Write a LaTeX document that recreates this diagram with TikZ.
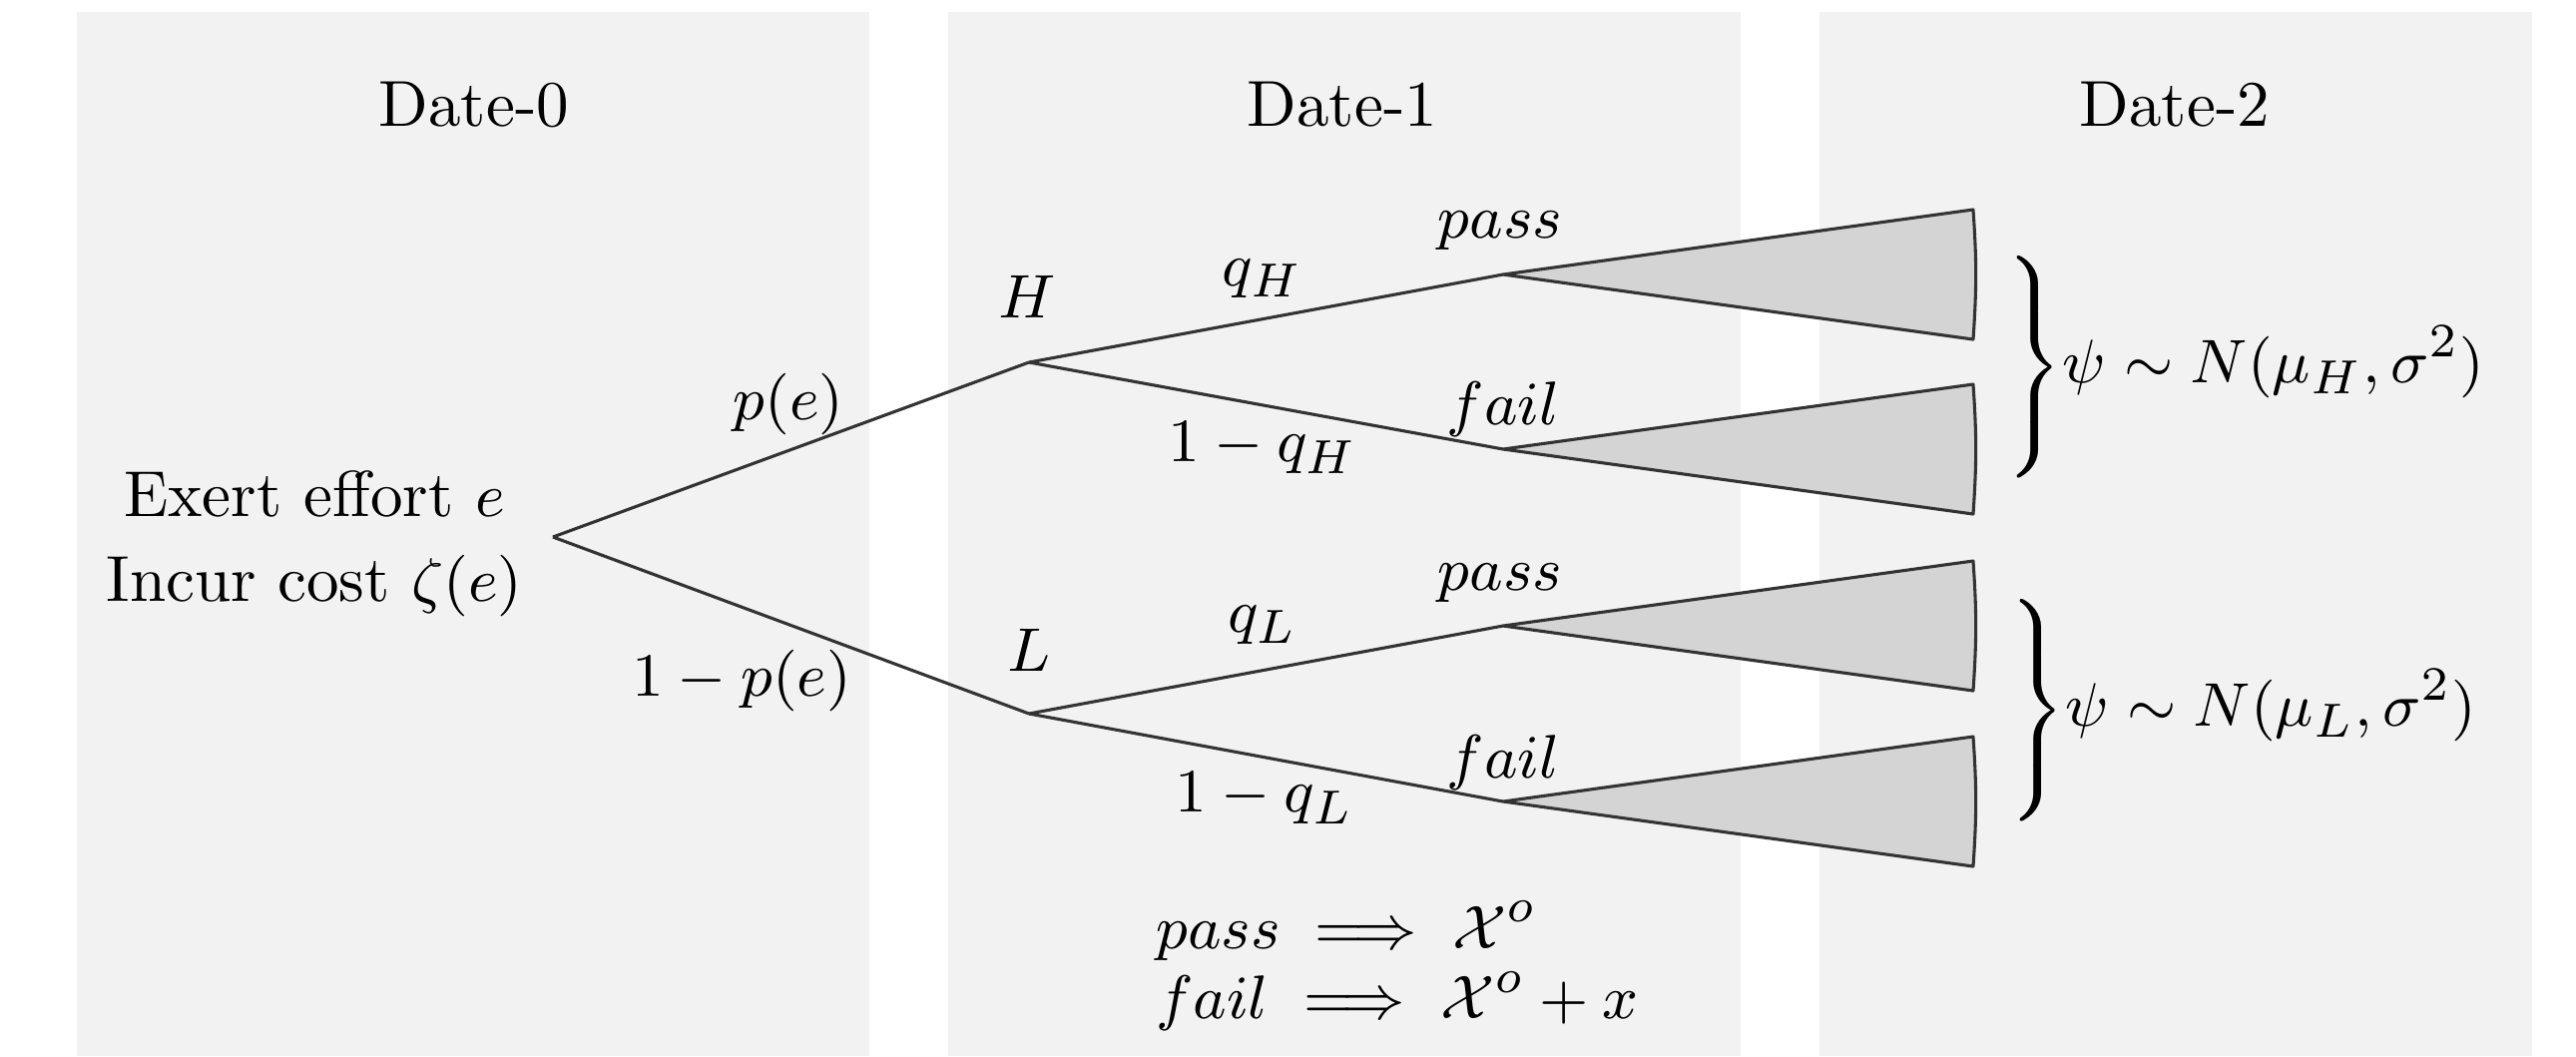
\documentclass[tikz,border=0pt]{standalone}
\usepackage{amsmath}
\begin{document}
\begin{tikzpicture}[x=0.146pt,y=-0.146pt,
  panel/.style={fill=black!5,draw=none},
  branch/.style={draw=black!80,line width=0.45pt},
  leaf/.style={draw=black!80,line width=0.45pt,fill=black!17},
  lbl/.style={inner sep=0pt,font=\fontsize{9.5}{11.8}\selectfont},
  every node/.style={font=\fontsize{9.5}{11.8}\selectfont}]
\useasboundingbox (0,0) rectangle (2581,1058);
% panels
\fill[panel] (77,12) rectangle (871,1058);
\fill[panel] (950,12) rectangle (1744,1058);
\fill[panel] (1823,12) rectangle (2537,1058);
% headings
\node[lbl] (d0) at (475,105) {Date-0};
\node[lbl] (d1) at (1345,105) {Date-1};
\node[lbl] (d2) at (2179,105) {Date-2};
% tree points
\coordinate (R) at (554,538);
\coordinate (H) at (1031,363);
\coordinate (L) at (1031,715);
\coordinate (HP) at (1506,275);
\coordinate (HF) at (1506,450);
\coordinate (LP) at (1506,627);
\coordinate (LF) at (1506,803);
% root text
\node[lbl,align=center,font=\fontsize{9.5}{12.4}\selectfont] (root) at (315,545) {Exert effort $e$\\Incur cost $\zeta(e)$};
% branches
\draw[branch] (R) -- (H);
\draw[branch] (R) -- (L);
\draw[branch] (H) -- (HP);
\draw[branch] (H) -- (HF);
\draw[branch] (L) -- (LP);
\draw[branch] (L) -- (LF);
% leaves
\foreach \c in {HP,HF,LP,LF}{
  \draw[leaf,line join=round] (\c) -- ++(471,-65) to[bend left=4] ++(0,130) -- cycle;
}
% labels
\node[lbl] (pe) at (790,405) {$p(e)$};
\node[lbl] (npe) at (743,682) {$1-p(e)$};
\node[lbl] (lH) at (1029,297) {$H$};
\node[lbl] (lL) at (1031,651) {$L$};
\node[lbl] (qH) at (1265,279) {$q_H$};
\node[lbl] (nqH) at (1265,449) {$1-q_H$};
\node[lbl] (qL) at (1265,626) {$q_L$};
\node[lbl] (nqL) at (1267,800) {$1-q_L$};
\node[lbl] (pH) at (1503,231) {$pass$};
\node[lbl] (fH) at (1506,410) {$fail$};
\node[lbl] (pL) at (1503,584) {$pass$};
\node[lbl] (fL) at (1506,764) {$fail$};
% bottom note
\node[lbl,align=left,anchor=west] (note) at (1157,968)
  {$pass \implies \mathcal{X}^o$\\[-1.5pt]$fail \implies \mathcal{X}^o + x$};
% distributions
\node[lbl,anchor=west] (dH) at (2001,368)
  {$\left.\rule[-14pt]{0pt}{28pt}\right\}\!\psi \sim N(\mu_H,\sigma^2)$};
\node[lbl,anchor=west] (dL) at (2004,712)
  {$\left.\rule[-14pt]{0pt}{28pt}\right\}\!\psi \sim N(\mu_L,\sigma^2)$};
\end{tikzpicture}
\end{document}
